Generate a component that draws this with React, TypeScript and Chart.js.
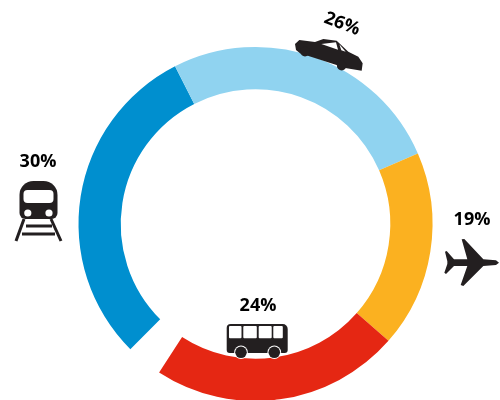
import React, { useEffect, useRef } from "react";
import { Chart, registerables } from "chart.js";

Chart.register(...registerables);

const categories = ["Train", "Car", "Plane", "Bus"];
const valueLabels = ["30%", "26%", "19%", "24%"];
// Arc shares as drawn in the picture
const arcShares = [30, 26, 18, 22.7];
const colours = ["#008fcf", "#90d3f0", "#fbb120", "#e52713"];

const INK = "#231f20";

const poly = (ctx: CanvasRenderingContext2D, pts: number[][]) => {
  ctx.beginPath();
  pts.forEach((p, i) => (i ? ctx.lineTo(p[0], p[1]) : ctx.moveTo(p[0], p[1])));
  ctx.closePath();
  ctx.fill();
};

const rr = (ctx: CanvasRenderingContext2D, x: number, y: number, w: number, h: number, r: number | number[]) => {
  ctx.beginPath();
  ctx.roundRect(x, y, w, h, r);
  ctx.fill();
};

const drawTrain = (ctx: CanvasRenderingContext2D) => {
  ctx.strokeStyle = INK;
  ctx.lineWidth = 3;
  ctx.beginPath();
  ctx.moveTo(24, 219); ctx.lineTo(16, 241);
  ctx.moveTo(51, 219); ctx.lineTo(61, 241);
  ctx.moveTo(26, 226); ctx.lineTo(52, 226);
  ctx.moveTo(22, 234); ctx.lineTo(55, 234);
  ctx.stroke();
  ctx.fillStyle = INK;
  rr(ctx, 19.5, 181, 38, 38, [14, 14, 6, 6]);
  ctx.fillStyle = "#fff";
  rr(ctx, 23.5, 190, 30, 13, 4);
  ctx.beginPath();
  ctx.arc(27.8, 213, 3.6, 0, 7);
  ctx.arc(49, 213, 3.6, 0, 7);
  ctx.fill();
};

const drawPlane = (ctx: CanvasRenderingContext2D) => {
  ctx.fillStyle = INK;
  const z = [
    [207, 188], [198, 181], [160, 178], [103, 117], [95, 118], [112, 178], [72, 178], [50, 153], [45, 155],
    [52, 184], [52, 192], [43, 218], [48, 222], [72, 198], [112, 198], [92, 255], [100, 258], [160, 198], [198, 195],
  ];
  poly(ctx, z.map(([x, y]) => [430 + x / 3, 200 + y / 3]));
};

const drawBus = (ctx: CanvasRenderingContext2D) => {
  ctx.fillStyle = INK;
  rr(ctx, 226.7, 324, 61, 29, [4, 5, 3, 3]);
  ctx.fillStyle = "#fff";
  [[229, 12.5], [243.3, 13.5], [258.7, 13], [273.3, 9.5]].forEach(([x, w]) => rr(ctx, x, 326, w, 12.3, 1));
  [[241, 352.3], [274.3, 352.3]].forEach(([x, y]) => {
    ctx.fillStyle = "#fff";
    ctx.beginPath();
    ctx.arc(x, y, 6.8, 0, 7);
    ctx.fill();
    ctx.fillStyle = INK;
    ctx.beginPath();
    ctx.arc(x, y, 5.8, 0, 7);
    ctx.fill();
  });
};

const drawCar = (ctx: CanvasRenderingContext2D) => {
  const m = (pts: number[][]) => pts.map(([x, y]) => [280 + x / 3, y / 3]);
  ctx.fillStyle = INK;
  poly(ctx, m([
    [45, 132], [58, 120], [105, 126], [130, 117], [170, 122], [205, 155], [235, 170], [248, 190], [245, 212],
    [200, 205], [60, 160], [48, 150],
  ]));
  [[75, 155], [185, 197]].forEach(([x, y]) => {
    ctx.beginPath();
    ctx.arc(280 + x / 3, y / 3, 4.8, 0, 7);
    ctx.fill();
  });
  ctx.fillStyle = "#fff";
  poly(ctx, m([[124, 132], [168, 127], [174, 149]]));
  poly(ctx, m([[178, 133], [197, 155], [184, 151]]));
};

const drawLabel = (ctx: CanvasRenderingContext2D, t: string, x: number, y: number, deg: number) => {
  ctx.save();
  ctx.translate(x, y);
  ctx.rotate((deg * Math.PI) / 180);
  ctx.fillStyle = "#000";
  ctx.font = "bold 18px 'Open Sans'";
  ctx.textAlign = "center";
  ctx.textBaseline = "middle";
  ctx.fillText(t, 0, 0);
  ctx.restore();
};

const decorations = {
  id: "decorations",
  afterDraw(chart: Chart) {
    const ctx = chart.ctx;
    ctx.save();
    drawTrain(ctx);
    drawPlane(ctx);
    drawBus(ctx);
    drawCar(ctx);
    drawLabel(ctx, valueLabels[0], 38, 162, 0);
    drawLabel(ctx, valueLabels[1], 342, 24, 21);
    drawLabel(ctx, valueLabels[2], 472, 220, 0);
    drawLabel(ctx, valueLabels[3], 258, 306, 0);
    ctx.restore();
  },
};

export default function App() {
  const ref = useRef<HTMLCanvasElement>(null);
  useEffect(() => {
    const chart = new Chart(ref.current!, {
      type: "doughnut",
      data: {
        labels: categories,
        datasets: [{ data: arcShares, backgroundColor: colours, borderWidth: 0 }],
      },
      options: {
        responsive: false,
        animation: false,
        rotation: 225,
        circumference: 348,
        radius: 177,
        cutout: 134,
        layout: { padding: { left: 11, top: 48 } },
        plugins: { legend: { display: false }, tooltip: { enabled: false } },
      },
      plugins: [decorations],
    });
    return () => chart.destroy();
  }, []);
  return (
    <div style={{ position: "fixed", left: 0, top: 0, width: 500, height: 400, background: "#fff" }}>
      <canvas ref={ref} width={500} height={400} style={{ display: "block" }} />
    </div>
  );
}
